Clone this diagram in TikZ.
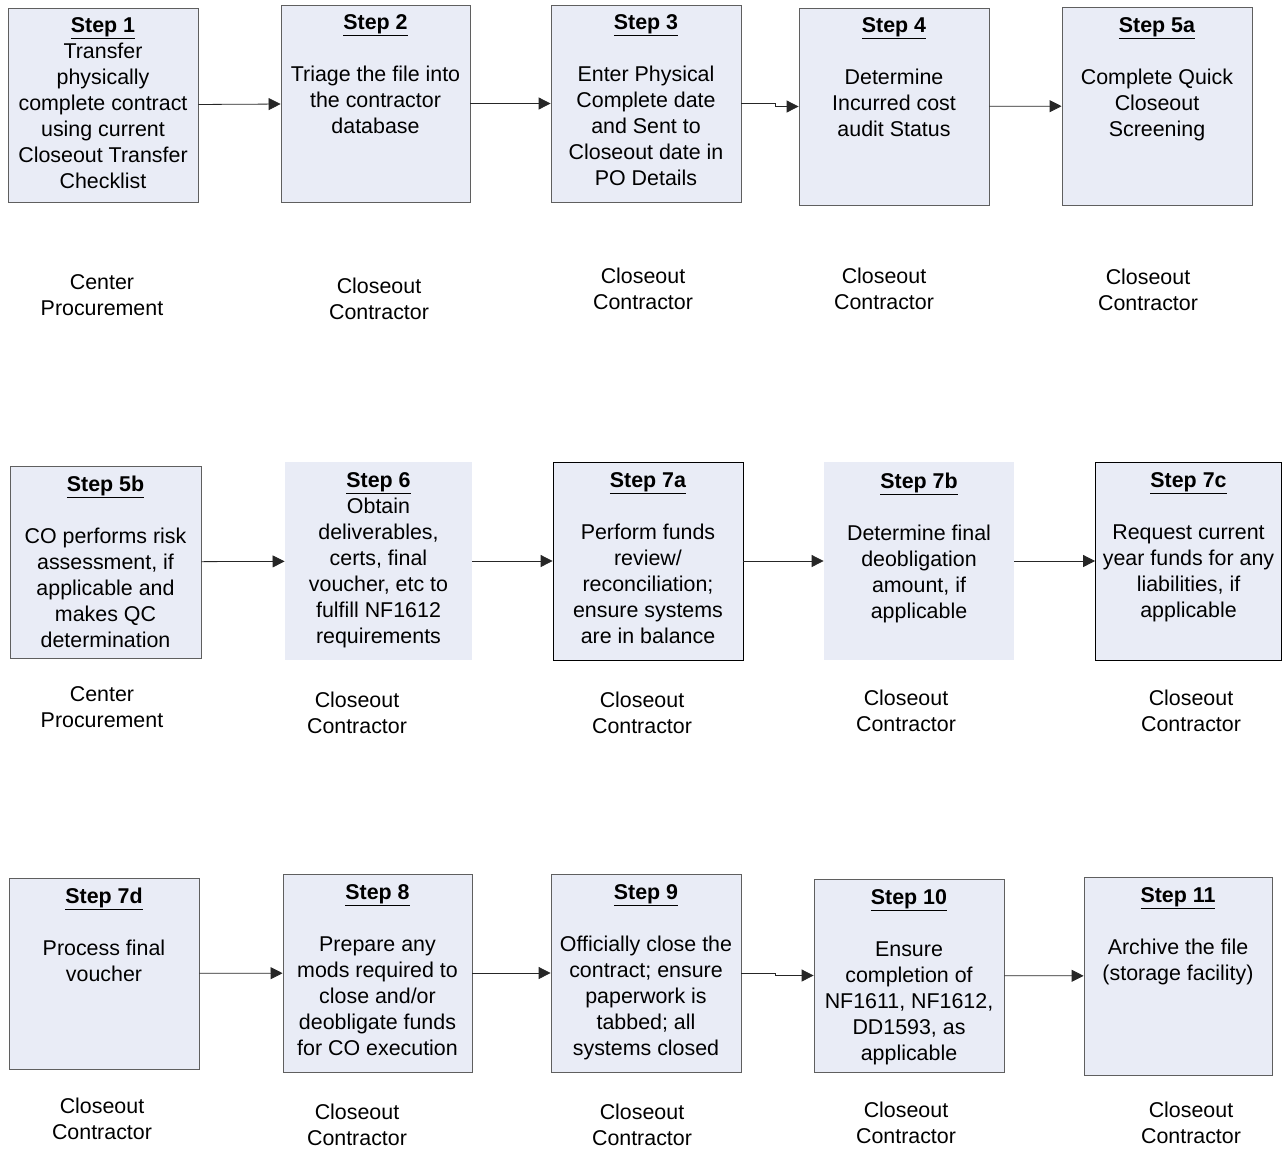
\documentclass[tikz,border=0pt]{standalone}
\usepackage{fontspec}
\setmainfont{Liberation Sans}
\usetikzlibrary{positioning,arrows.meta}
\definecolor{boxfill}{RGB}{233,236,246}
\definecolor{boxline}{RGB}{95,95,95}
\newcommand{\steptitle}[1]{\underline{\textbf{#1}}}
\begin{document}
\begin{tikzpicture}[x=1pt, y=-1pt,
  stepbox/.style={draw=boxline, fill=boxfill, line width=0.8pt, inner sep=0pt},
  steptext/.style={align=center, inner sep=0pt, font=\fontsize{21.4}{26}\selectfont},
  owner/.style={align=center, inner sep=0pt, font=\fontsize{21.4}{26}\selectfont},
  flow/.style={draw=black!85, line width=0.8pt, -{Triangle[length=12pt,width=12pt]}}]
\useasboundingbox (0,0) rectangle (1283,1149);
% row 1
\node[stepbox, minimum width=190pt, minimum height=194pt] (s1) at (103,105) {};
\node[stepbox, minimum width=189pt, minimum height=197pt] (s2) at (375.5,103.5) {};
\node[stepbox, minimum width=190pt, minimum height=197pt] (s3) at (646,103.5) {};
\node[stepbox, minimum width=190pt, minimum height=197pt] (s4) at (894,106.5) {};
\node[stepbox, minimum width=190pt, minimum height=198pt] (s5a) at (1157,106) {};
\node[steptext, below=10pt of s1.north] {\steptitle{Step 1}\\ Transfer\\ physically\\ complete contract\\ using current\\ Closeout Transfer\\ Checklist};
\node[steptext, below=10pt of s2.north] {\steptitle{Step 2}\\[26pt] Triage the file into\\ the contractor\\ database};
\node[steptext, below=10pt of s3.north] {\steptitle{Step 3}\\[26pt] Enter Physical\\ Complete date\\ and Sent to\\ Closeout date in\\ PO Details};
\node[steptext, below=10pt of s4.north] {\steptitle{Step 4}\\[26pt] Determine\\ Incurred cost\\ audit Status};
\node[steptext, below=11pt of s5a.north] {\steptitle{Step 5a}\\[26pt] Complete Quick\\ Closeout\\ Screening};
\node[owner] (o1) at (102,295) {Center\\ Procurement};
\node[owner] (o2) at (379,299) {Closeout\\ Contractor};
\node[owner] (o3) at (643,289) {Closeout\\ Contractor};
\node[owner] (o4) at (884,289) {Closeout\\ Contractor};
\node[owner] (o5a) at (1148,290) {Closeout\\ Contractor};
\draw[flow] (s1) -- (s2);
\draw[flow] (s2) -- (s3);
\draw[flow] (s3.east) -- ++(34,0) |- (s4.west);
\draw[flow] (s4) -- (s5a);
% row 2
\node[stepbox, minimum width=191pt, minimum height=192pt] (s5b) at (105.5,562) {};
\node[stepbox, minimum width=187pt, minimum height=198pt, draw=none] (s6) at (378.5,561) {};
\node[stepbox, minimum width=190pt, minimum height=198pt, draw=black] (s7a) at (648,561) {};
\node[stepbox, minimum width=190pt, minimum height=198pt, draw=none] (s7b) at (919,561) {};
\node[stepbox, minimum width=186pt, minimum height=198pt, draw=black] (s7c) at (1188.5,561) {};
\node[steptext, below=10pt of s5b.north] {\steptitle{Step 5b}\\[26pt] CO performs risk\\ assessment, if\\ applicable and\\ makes QC\\ determination};
\node[steptext, below=11pt of s6.north] {\steptitle{Step 6}\\ Obtain\\ deliverables,\\ certs, final\\ voucher, etc to\\ fulfill NF1612\\ requirements};
\node[steptext, below=11pt of s7a.north] {\steptitle{Step 7a}\\[26pt] Perform funds\\ review/\\ reconciliation;\\ ensure systems\\ are in balance};
\node[steptext, below=11pt of s7b.north] {\steptitle{Step 7b}\\[26pt] Determine final\\ deobligation\\ amount, if\\ applicable};
\node[steptext, below=11pt of s7c.north] {\steptitle{Step 7c}\\[26pt] Request current\\ year funds for any\\ liabilities, if\\ applicable};
\node[owner] (o5b) at (102,707) {Center\\ Procurement};
\node[owner] (o6) at (357,713) {Closeout\\ Contractor};
\node[owner] (o7a) at (642,713) {Closeout\\ Contractor};
\node[owner] (o7b) at (906,711) {Closeout\\ Contractor};
\node[owner] (o7c) at (1191,711) {Closeout\\ Contractor};
\draw[flow] (s5b) -- (s6);
\draw[flow] (s6) -- (s7a);
\draw[flow] (s7a) -- (s7b);
\draw[flow] (s7b) -- (s7c);
% row 3
\node[stepbox, minimum width=190pt, minimum height=191pt] (s7d) at (104,973.5) {};
\node[stepbox, minimum width=189pt, minimum height=198pt] (s8) at (377.5,973) {};
\node[stepbox, minimum width=190pt, minimum height=198pt] (s9) at (646,973) {};
\node[stepbox, minimum width=190pt, minimum height=193pt] (s10) at (909,975.5) {};
\node[stepbox, minimum width=188pt, minimum height=198pt] (s11) at (1178,976) {};
\node[steptext, below=10pt of s7d.north] {\steptitle{Step 7d}\\[26pt] Process final\\ voucher};
\node[steptext, below=11pt of s8.north] {\steptitle{Step 8}\\[26pt] Prepare any\\ mods required to\\ close and/or\\ deobligate funds\\ for CO execution};
\node[steptext, below=11pt of s9.north] {\steptitle{Step 9}\\[26pt] Officially close the\\ contract; ensure\\ paperwork is\\ tabbed; all\\ systems closed};
\node[steptext, below=11pt of s10.north] {\steptitle{Step 10}\\[26pt] Ensure\\ completion of\\ NF1611, NF1612,\\ DD1593, as\\ applicable};
\node[steptext, below=11pt of s11.north] {\steptitle{Step 11}\\[26pt] Archive the file\\ (storage facility)};
\node[owner] (o7d) at (102,1119) {Closeout\\ Contractor};
\node[owner] (o8) at (357,1125) {Closeout\\ Contractor};
\node[owner] (o9) at (642,1125) {Closeout\\ Contractor};
\node[owner] (o10) at (906,1123) {Closeout\\ Contractor};
\node[owner] (o11) at (1191,1123) {Closeout\\ Contractor};
\draw[flow] (s7d) -- (s8);
\draw[flow] (s8) -- (s9);
\draw[flow] (s9.east) -- ++(34,0) |- (s10.west);
\draw[flow] (s10) -- (s11);
\end{tikzpicture}
\end{document}
